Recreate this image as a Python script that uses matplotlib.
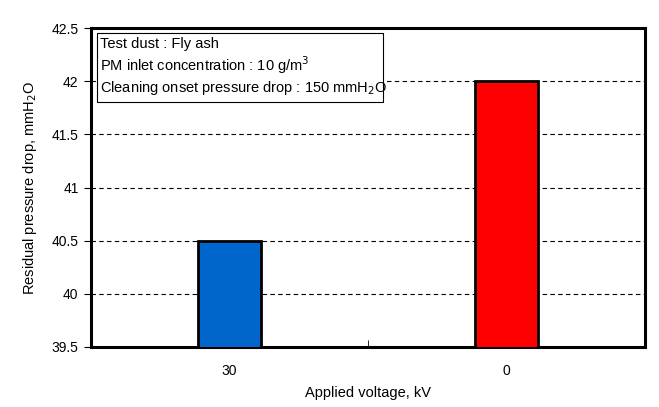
import numpy as np
import matplotlib
matplotlib.use('Agg')
import matplotlib.pyplot as plt
from matplotlib.patches import Rectangle

# data
voltages = ['30', '0']
residual_drop = [40.5, 42.0]
bar_colors = ['#0066CC', '#FF0000']

plt.rcParams['font.family'] = ['Liberation Sans', 'DejaVu Sans']

fig = plt.figure(figsize=(6.59, 4.07), dpi=100)
ax = fig.add_axes([91 / 659, 1 - 347 / 407, 554 / 659, 319 / 407])

x = np.arange(len(voltages))
ax.bar(x, residual_drop, width=0.225, color=bar_colors,
       edgecolor='black', linewidth=2, zorder=3)

ax.set_ylim(39.5, 42.5)
ax.set_xlim(-0.5, 1.5)
ax.set_yticks(np.arange(39.5, 42.51, 0.5))
ax.set_yticklabels(['39.5', '40', '40.5', '41', '41.5', '42', '42.5'])
ax.yaxis.grid(True, linestyle=(0, (4, 3)), color='black', linewidth=0.8)
ax.set_axisbelow(True)

# category labels centred, ticks at category boundaries
ax.set_xticks(x)
ax.set_xticklabels(voltages)
ax.tick_params(axis='x', which='major', length=0, pad=12, labelsize=10)
ax.set_xticks([0.5], minor=True)
ax.tick_params(axis='x', which='minor', direction='in', length=5)
ax.tick_params(axis='y', direction='out', length=5, labelsize=10, pad=4)

for s in ax.spines.values():
    s.set_linewidth(2.2)

ax.set_ylabel('Residual pressure drop, mmH$_2$O', fontsize=10.5, labelpad=9)
ax.set_xlabel('Applied voltage, kV', fontsize=10.5, labelpad=6)

# info box
ax.add_patch(Rectangle((0.011, 0.768), 0.516, 0.216, transform=ax.transAxes,
                       facecolor='white', edgecolor='black', linewidth=0.8,
                       zorder=4))
info = ('Test dust : Fly ash\n'
        'PM inlet concentration : 10 g/m$^3$\n'
        'Cleaning onset pressure drop : 150 mmH$_2$O')
ax.text(0.0165, 0.972, info, transform=ax.transAxes, fontsize=10.5,
        va='top', ha='left', linespacing=1.22, zorder=5)

fig.savefig('out.png', dpi=100)
